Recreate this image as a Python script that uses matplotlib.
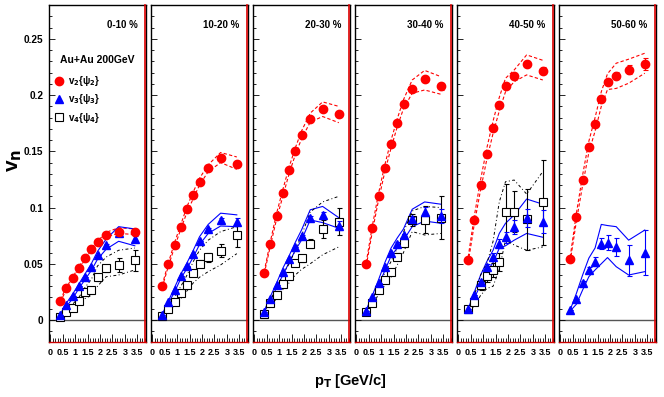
import matplotlib
matplotlib.use("Agg")
import matplotlib.pyplot as plt
from matplotlib.ticker import MultipleLocator, FuncFormatter
from matplotlib.lines import Line2D

plt.rcParams['font.family'] = ['Liberation Sans', 'DejaVu Sans']
plt.rcParams['font.weight'] = 'bold'

pt = [0.4, 0.65, 0.9, 1.15, 1.4, 1.65, 1.9, 2.25, 2.75, 3.4]
centralities = ['0-10 %', '10-20 %', '20-30 %', '30-40 %', '40-50 %', '50-60 %']

# v2{Psi2}
v2_vals = [
    [0.017, 0.028, 0.037, 0.046, 0.055, 0.063, 0.069, 0.076, 0.078, 0.078],
    [0.030, 0.0495, 0.0667, 0.083, 0.0985, 0.111, 0.123, 0.135, 0.144, 0.139],
    [0.042, 0.068, 0.0925, 0.113, 0.133, 0.150, 0.1646, 0.179, 0.1875, 0.183],
    [0.0495, 0.0816, 0.110, 0.135, 0.1566, 0.1755, 0.192, 0.2055, 0.2144, 0.208],
    [0.0534, 0.089, 0.120, 0.1474, 0.1705, 0.191, 0.208, 0.2174, 0.2275, 0.2218],
    [0.054, 0.0914, 0.1246, 0.154, 0.174, 0.1963, 0.212, 0.2174, 0.2224, 0.2278],
]
v2_err = [
    [0, 0, 0, 0, 0, 0, 0, 0, 0.001, 0.002],
    [0, 0, 0, 0, 0, 0, 0, 0, 0.001, 0.002],
    [0, 0, 0, 0, 0, 0, 0, 0.001, 0.002, 0.002],
    [0, 0, 0, 0, 0, 0, 0, 0.001, 0.002, 0.003],
    [0, 0, 0, 0, 0, 0, 0, 0.002, 0.002, 0.003],
    [0, 0, 0, 0, 0, 0.001, 0.002, 0.003, 0.004, 0.005],
]
v2_hi = [
    [0.018, 0.029, 0.038, 0.047, 0.056, 0.064, 0.070, 0.078, 0.082, 0.081],
    [0.031, 0.051, 0.069, 0.085, 0.101, 0.114, 0.126, 0.138, 0.149, 0.145],
    [0.043, 0.070, 0.095, 0.116, 0.136, 0.153, 0.168, 0.184, 0.194, 0.190],
    [0.051, 0.084, 0.113, 0.138, 0.160, 0.179, 0.196, 0.2135, 0.222, 0.2165],
    [0.056, 0.093, 0.125, 0.153, 0.177, 0.198, 0.215, 0.2224, 0.2358, 0.231],
    [0.056, 0.095, 0.129, 0.159, 0.180, 0.203, 0.219, 0.2284, 0.232, 0.2373],
]
v2_lo = [
    [0.016, 0.027, 0.036, 0.045, 0.054, 0.062, 0.068, 0.074, 0.077, 0.076],
    [0.029, 0.048, 0.065, 0.081, 0.096, 0.108, 0.120, 0.132, 0.140, 0.134],
    [0.041, 0.066, 0.090, 0.110, 0.130, 0.147, 0.161, 0.176, 0.181, 0.1755],
    [0.048, 0.079, 0.107, 0.132, 0.153, 0.172, 0.188, 0.2017, 0.2046, 0.2008],
    [0.051, 0.086, 0.116, 0.143, 0.166, 0.186, 0.203, 0.212, 0.218, 0.2135],
    [0.052, 0.088, 0.120, 0.149, 0.168, 0.190, 0.205, 0.206, 0.2106, 0.2195],
]

# v3{Psi3}
v3_vals = [
    [0.0045, 0.0133, 0.021, 0.030, 0.0385, 0.047, 0.058, 0.067, 0.077, 0.072],
    [0.0045, 0.016, 0.027, 0.039, 0.048, 0.059, 0.0705, 0.081, 0.089, 0.0875],
    [0.0074, 0.019, 0.031, 0.043, 0.054, 0.065, 0.075, 0.0905, 0.0934, 0.0836],
    [0.0083, 0.020, 0.033, 0.0474, 0.060, 0.068, 0.0756, 0.0896, 0.0964, 0.0925],
    [0.0095, 0.022, 0.034, 0.0474, 0.0563, 0.068, 0.0736, 0.0825, 0.0905, 0.0875],
    [0.0089, 0.019, 0.033, 0.0445, 0.052, 0.068, 0.0688, 0.0647, 0.053, 0.060],
]
v3_err = [
    [0, 0, 0, 0, 0, 0, 0, 0.001, 0.002, 0.003],
    [0, 0, 0, 0, 0, 0, 0, 0.001, 0.002, 0.003],
    [0, 0, 0, 0, 0, 0, 0.001, 0.002, 0.003, 0.004],
    [0, 0, 0, 0, 0, 0.001, 0.001, 0.002, 0.004, 0.006],
    [0, 0, 0, 0.002, 0.003, 0.004, 0.005, 0.006, 0.008, 0.010],
    [0, 0, 0.002, 0.003, 0.004, 0.005, 0.007, 0.008, 0.014, 0.020],
]
v3_hi = [
    [0.005, 0.015, 0.023, 0.032, 0.041, 0.050, 0.061, 0.072, 0.083, 0.081],
    [0.005, 0.017, 0.029, 0.041, 0.051, 0.062, 0.074, 0.085, 0.095, 0.0935],
    [0.008, 0.021, 0.033, 0.046, 0.057, 0.069, 0.080, 0.098, 0.101, 0.091],
    [0.009, 0.022, 0.036, 0.051, 0.064, 0.073, 0.081, 0.0985, 0.105, 0.103],
    [0.010, 0.025, 0.040, 0.052, 0.062, 0.077, 0.086, 0.0934, 0.1076, 0.103],
    [0.009, 0.0237, 0.040, 0.055, 0.064, 0.085, 0.084, 0.083, 0.071, 0.080],
]
v3_lo = [
    [0.004, 0.012, 0.019, 0.028, 0.036, 0.044, 0.054, 0.063, 0.070, 0.066],
    [0.004, 0.015, 0.025, 0.037, 0.046, 0.056, 0.067, 0.077, 0.0836, 0.083],
    [0.007, 0.017, 0.029, 0.040, 0.051, 0.062, 0.071, 0.089, 0.0866, 0.0816],
    [0.008, 0.018, 0.031, 0.044, 0.057, 0.064, 0.071, 0.083, 0.088, 0.086],
    [0.009, 0.020, 0.031, 0.043, 0.051, 0.0638, 0.066, 0.071, 0.077, 0.0736],
    [0.008, 0.014, 0.0267, 0.0385, 0.0445, 0.050, 0.0555, 0.0474, 0.040, 0.043],
]

# v4{Psi4} (no data for 50-60 %)
v4_vals = [
    [0.003, 0.0068, 0.0104, 0.0166, 0.0246, 0.0267, 0.038, 0.046, 0.049, 0.053],
    [0.0036, 0.0095, 0.016, 0.024, 0.031, 0.042, 0.050, 0.0558, 0.0617, 0.0753],
    [0.0053, 0.0154, 0.022, 0.032, 0.039, 0.051, 0.055, 0.068, 0.0807, 0.0875],
    [0.0074, 0.0154, 0.0267, 0.036, 0.043, 0.0563, 0.0688, 0.089, 0.089, 0.091],
    [0.0095, 0.016, 0.031, 0.039, 0.0445, 0.052, 0.0964, 0.0964, 0.0896, 0.1047],
    None,
]
v4_err = [
    [0, 0, 0, 0.001, 0.002, 0.002, 0.003, 0.003, 0.006, 0.009],
    [0, 0, 0, 0.001, 0.002, 0.002, 0.003, 0.004, 0.006, 0.010],
    [0, 0, 0, 0.001, 0.002, 0.002, 0.003, 0.004, 0.008, 0.012],
    [0, 0, 0, 0.002, 0.002, 0.003, 0.004, 0.005, 0.012, 0.019],
    [0, 0.002, 0.004, 0.005, 0.006, 0.008, 0.025, 0.018, 0.027, 0.038],
    None,
]
v4_hi = [
    [0.004, 0.009, 0.014, 0.020, 0.029, 0.036, 0.048, 0.056, 0.062, 0.064],
    [0.005, 0.012, 0.020, 0.030, 0.040, 0.052, 0.062, 0.071, 0.0786, 0.083],
    [0.006, 0.018, 0.028, 0.040, 0.050, 0.062, 0.075, 0.096, 0.105, 0.110],
    [0.008, 0.018, 0.030, 0.042, 0.052, 0.064, 0.078, 0.097, 0.101, 0.100],
    [0.010, 0.022, 0.040, 0.050, 0.070, 0.105, 0.123, 0.1245, 0.112, 0.132],
    None,
]
v4_lo = [
    [0.002, 0.005, 0.008, 0.012, 0.019, 0.022, 0.030, 0.0385, 0.040, 0.0445],
    [0.003, 0.008, 0.013, 0.019, 0.026, 0.033, 0.038, 0.043, 0.049, 0.059],
    [0.004, 0.013, 0.019, 0.027, 0.033, 0.040, 0.045, 0.050, 0.058, 0.065],
    [0.006, 0.013, 0.023, 0.031, 0.038, 0.049, 0.060, 0.0786, 0.0756, 0.077],
    [0.008, 0.012, 0.022, 0.028, 0.030, 0.045, 0.071, 0.0667, 0.062, 0.065],
    None,
]

W, H = 664, 397
fig = plt.figure(figsize=(W / 100, H / 100), dpi=100)
fmt = FuncFormatter(lambda v, p: ('%g' % round(v, 3)))

RED = '#ff0000'
BLUE = '#0000ff'
dash_red = (0, (3, 2))
dashdot_blk = (0, (3, 2.5, 1, 2.5))

axes = []
for i in range(6):
    left = 49 + 102 * i
    ax = fig.add_axes([left / W, 55 / H, 97 / W, 337 / H])
    axes.append(ax)
    ax.set_xlim(-0.05, 3.85)
    ax.set_ylim(-0.0196, 0.2802)
    ax.axhline(0, color='#555555', lw=1.0, zorder=1)

    # bands
    ax.plot(pt, v2_hi[i], color=RED, ls=dash_red, lw=0.8, zorder=2)
    ax.plot(pt, v2_lo[i], color=RED, ls=dash_red, lw=0.8, zorder=2)
    ax.plot(pt, v3_hi[i], color=BLUE, ls='-', lw=0.8, zorder=2)
    ax.plot(pt, v3_lo[i], color=BLUE, ls='-', lw=0.8, zorder=2)
    if v4_vals[i] is not None:
        ax.plot(pt, v4_hi[i], color='black', ls=dashdot_blk, lw=0.7, zorder=2)
        ax.plot(pt, v4_lo[i], color='black', ls=dashdot_blk, lw=0.7, zorder=2)
        ax.errorbar(pt, v4_vals[i], yerr=v4_err[i], fmt='s', ms=5.6,
                    mfc='white', mec='black', mew=0.8, ecolor='black',
                    elinewidth=0.8, capsize=1.8, capthick=0.8, zorder=3)
    ax.errorbar(pt, v3_vals[i], yerr=v3_err[i], fmt='^', ms=6,
                color=BLUE, ecolor=BLUE, elinewidth=0.8, capsize=1.8,
                capthick=0.8, zorder=4)
    ax.errorbar(pt, v2_vals[i], yerr=v2_err[i], fmt='o', ms=6,
                color=RED, ecolor=RED, elinewidth=0.8, capsize=1.8,
                capthick=0.8, zorder=5)

    ax.text(0.91, 0.94, centralities[i], transform=ax.transAxes,
            ha='right', va='center', fontsize=7, fontweight='bold')

    ax.xaxis.set_major_locator(MultipleLocator(0.5))
    ax.xaxis.set_minor_locator(MultipleLocator(0.1))
    ax.yaxis.set_major_locator(MultipleLocator(0.05))
    ax.yaxis.set_minor_locator(MultipleLocator(0.01))
    ax.xaxis.set_major_formatter(fmt)
    ax.yaxis.set_major_formatter(fmt)
    ax.tick_params(axis='x', which='major', direction='in', length=5.5,
                   width=0.6, labelsize=6.5, pad=4)
    ax.tick_params(axis='x', which='minor', direction='in', length=2.8,
                   width=0.6)
    ax.tick_params(axis='y', which='major', direction='in', length=4,
                   width=0.6, labelsize=7.2, pad=4, labelleft=(i == 0))
    ax.tick_params(axis='y', which='minor', direction='in', length=2,
                   width=0.6)
    for lab in ax.get_xticklabels() + ax.get_yticklabels():
        lab.set_fontweight('bold')
    for s in ['left', 'top', 'right']:
        ax.spines[s].set_color('black')
        ax.spines[s].set_linewidth(1.0)
    ax.spines['bottom'].set_color('#cc0000')
    ax.spines['bottom'].set_linewidth(1.0)
    ax.plot([0.992, 0.992], [0, 1], transform=ax.transAxes,
            color='#dd0000', lw=1.2, zorder=6, clip_on=False)

# legend in first panel
ax0 = axes[0]
ax0.text(0.5, 0.837, 'Au+Au 200GeV', transform=ax0.transAxes, ha='center',
         va='center', fontsize=7.5, fontweight='bold')
handles = [
    Line2D([], [], ls='none', marker='o', ms=6, color=RED),
    Line2D([], [], ls='none', marker='^', ms=6, color=BLUE),
    Line2D([], [], ls='none', marker='s', ms=5.6, mfc='white', mec='black', mew=0.8),
]
labels = [r'v$_\mathbf{2}${ψ$_\mathbf{2}$}', r'v$_\mathbf{3}${ψ$_\mathbf{3}$}',
          r'v$_\mathbf{4}${ψ$_\mathbf{4}$}']
leg = ax0.legend(handles, labels, loc='upper left', bbox_to_anchor=(0.05, 0.795),
                 frameon=False, fontsize=7, handlelength=1.0, handletextpad=0.5,
                 labelspacing=0.45, borderaxespad=0, borderpad=0)
for t in leg.get_texts():
    t.set_fontweight('bold')

fig.text(15 / W, 1 - 160 / H, r'v$_\mathbf{n}$', rotation=90, ha='center',
         va='center', fontsize=15, fontweight='bold')
fig.text(350 / W, 1 - 381 / H, r'p$_\mathbf{T}$ [GeV/c]', ha='center',
         va='center', fontsize=10.5, fontweight='bold')

fig.savefig('out.png', dpi=100)
